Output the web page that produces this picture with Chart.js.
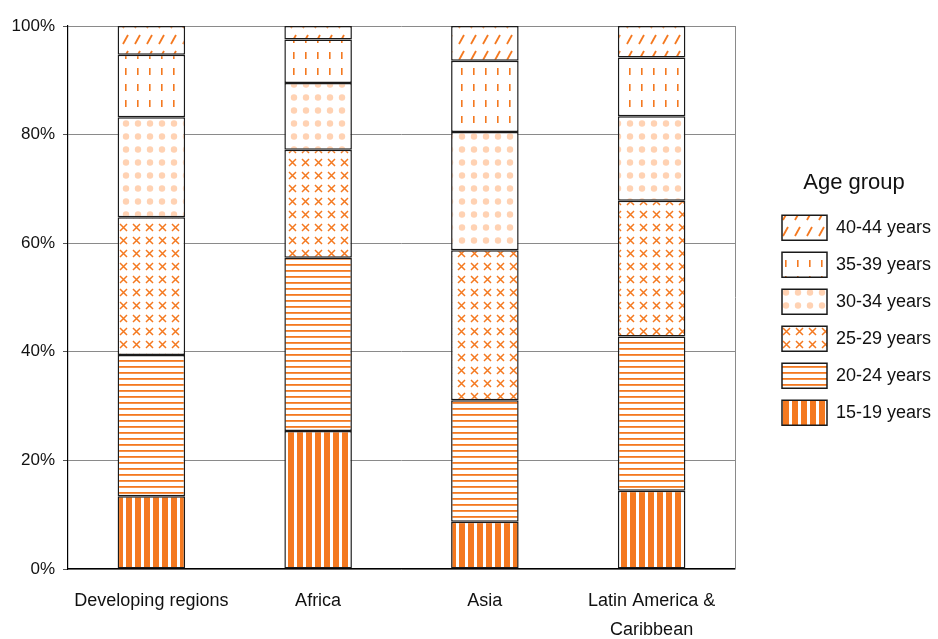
<!DOCTYPE html>
<html>
<head>
<meta charset="utf-8">
<script src="https://cdn.jsdelivr.net/npm/chart.js@4.4.1/dist/chart.umd.min.js"></script>
<style>
  html, body { margin: 0; padding: 0; background: #fff; }
  #wrap { width: 938px; height: 639px; }
</style>
</head>
<body>
<div id="wrap"><canvas id="graficoEdades"></canvas></div>
<script>
// Datos (porcentaje de cada grupo de edad por region)
const regiones = ['Developing regions', 'Africa', 'Asia', ['Latin America &', 'Caribbean']];
const grupos = ['15-19 years', '20-24 years', '25-29 years', '30-34 years', '35-39 years', '40-44 years'];
const edad15_19 = [13.4, 25.4, 8.7, 14.4];
const edad20_24 = [26.0, 31.9, 22.4, 28.4];
const edad25_29 = [25.4, 19.9, 27.6, 25.0];
const edad30_34 = [18.4, 12.3, 21.8, 15.6];
const edad35_39 = [11.5, 8.0, 13.1, 10.8];
const edad40_44 = [5.3, 2.5, 6.4, 5.8];
const ticksY = [0, 20, 40, 60, 80, 100];

const naranja = '#f47920';
const durazno = '#ffd2b3';

// crea un patron a partir de un pequeño canvas
function patron(w, h, dibujar) {
    const c = document.createElement('canvas');
    c.width = w; c.height = h;
    const g = c.getContext('2d');
    g.fillStyle = '#fff';
    g.fillRect(0, 0, w, h);
    dibujar(g);
    return document.getElementById('graficoEdades').getContext('2d').createPattern(c, 'repeat');
}

const patrones = [
    patron(9, 9, g => { g.fillStyle = naranja; g.fillRect(0, 0, 6, 9); }),
    patron(6, 6, g => { g.fillStyle = naranja; g.fillRect(0, 0, 6, 1.8); }),
    patron(13, 13, g => {
        g.strokeStyle = naranja; g.lineWidth = 1.5;
        g.beginPath();
        g.moveTo(3, 3); g.lineTo(10, 10);
        g.moveTo(10, 3); g.lineTo(3, 10);
        g.stroke();
    }),
    patron(12, 13, g => {
        g.fillStyle = durazno;
        g.beginPath(); g.arc(6, 6.5, 3.2, 0, Math.PI * 2); g.fill();
    }),
    patron(12, 16, g => { g.fillStyle = naranja; g.fillRect(5, 4, 1.6, 7); }),
    patron(12, 16, g => {
        g.strokeStyle = naranja; g.lineWidth = 1.8;
        g.beginPath(); g.moveTo(3, 12); g.lineTo(8, 3); g.stroke();
    })
];

const valores = [edad15_19, edad20_24, edad25_29, edad30_34, edad35_39, edad40_44];

// leyenda con ancho fijo y separada del area del grafico
const anchoLeyenda = 203;
const separacion = 35;
const leyendaSeparada = {
    id: 'leyendaSeparada',
    beforeInit(chart) {
        const fitOriginal = chart.legend.fit;
        chart.legend.fit = function () {
            fitOriginal.call(this);
            this.width = anchoLeyenda;
        };
    },
    afterLayout(chart) {
        const ley = chart.legend;
        ley.left = chart.chartArea.right + separacion;
        ley.width = ley.right - ley.left;
    },
    afterDraw(chart) {
        // linea gris del borde derecho
        const { ctx, chartArea } = chart;
        ctx.save();
        ctx.strokeStyle = '#8a8a8a';
        ctx.lineWidth = 1;
        ctx.beginPath();
        ctx.moveTo(chartArea.right + 0.5, chartArea.top);
        ctx.lineTo(chartArea.right + 0.5, chartArea.bottom);
        ctx.stroke();
        ctx.restore();
    }
};

const ctx = document.getElementById('graficoEdades').getContext('2d');
Chart.defaults.font.family = '"Liberation Sans", Arial, sans-serif';
Chart.defaults.color = '#111';

new Chart(ctx, {
    type: 'bar',
    data: {
        labels: regiones,
        datasets: grupos.map((g, i) => ({
            label: g,
            data: valores[i],
            backgroundColor: patrones[i],
            borderColor: '#1a1a1a',
            borderWidth: 1.5,
            borderSkipped: false,
            barPercentage: 0.81,
            categoryPercentage: 0.5
        }))
    },
    plugins: [leyendaSeparada],
    options: {
        responsive: true,
        maintainAspectRatio: false,
        animation: false,
        layout: { padding: { top: 26, right: 0, bottom: 0, left: 0 } },
        plugins: {
            tooltip: { enabled: false },
            legend: {
                position: 'right',
                reverse: true,
                fullSize: false,
                title: {
                    display: true,
                    text: 'Age group',
                    font: { size: 22 },
                    padding: { top: 14, bottom: 5 }
                },
                labels: {
                    boxWidth: 45,
                    boxHeight: 25,
                    padding: 12,
                    font: { size: 18 },
                    color: '#111'
                }
            }
        },
        scales: {
            x: {
                stacked: true,
                grid: { display: false },
                border: { color: '#000', width: 1.2 },
                ticks: { font: { size: 18, lineHeight: 1.62 }, padding: 9, color: '#111', maxRotation: 0 },
                afterFit: s => { s.height = 70; }
            },
            y: {
                stacked: true,
                min: 0,
                max: 100,
                afterBuildTicks: s => { s.ticks = ticksY.map(v => ({ value: v })); },
                grid: { color: '#8a8a8a', tickLength: 5, tickColor: '#555' },
                border: { color: '#000', width: 1.2 },
                ticks: { font: { size: 17 }, padding: 8, color: '#111', callback: v => v + '%' },
                afterFit: s => { s.width = 68; }
            }
        }
    }
});
</script>
</body>
</html>
